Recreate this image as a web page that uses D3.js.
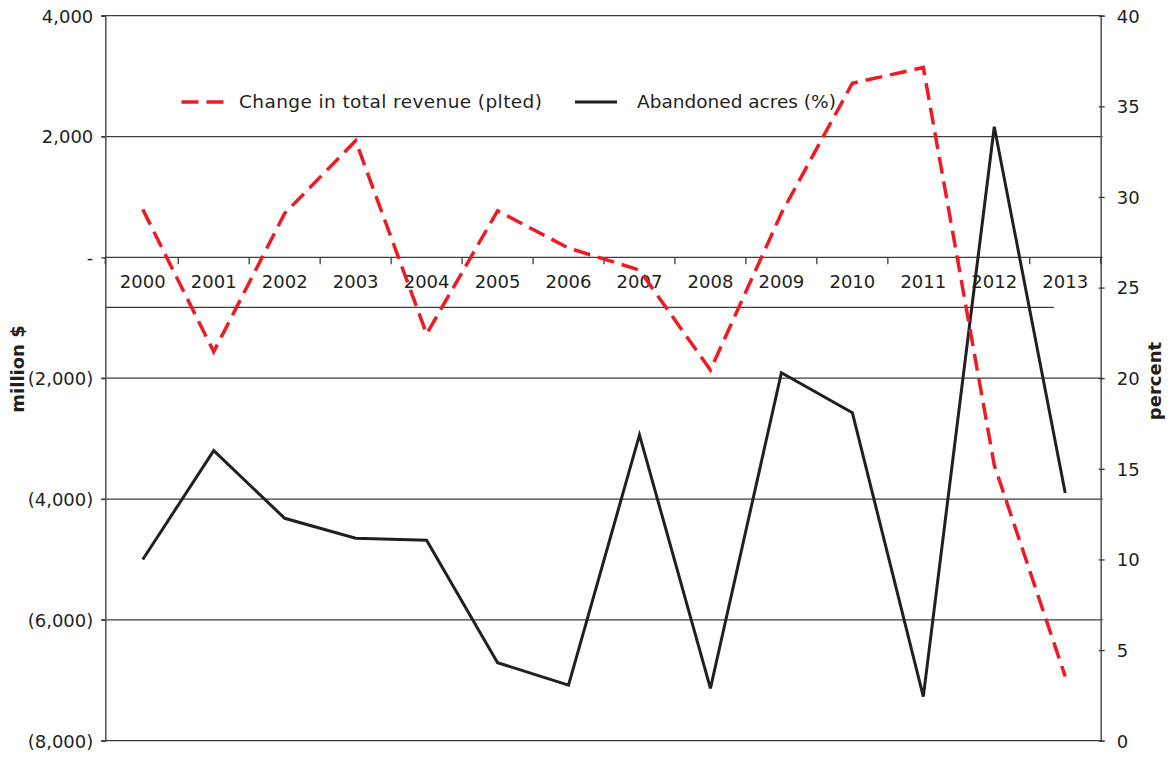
<!DOCTYPE html>
<html>
<head>
<meta charset="utf-8">
<script src="https://cdn.jsdelivr.net/npm/d3@7"></script>
<style>
  body { margin: 0; background: #fff; }
  svg { display: block; font-family: "DejaVu Sans", sans-serif; }
</style>
</head>
<body>
<svg id="chart" width="1175" height="758"></svg>
<script>
const years = ["2000","2001","2002","2003","2004","2005","2006","2007","2008","2009","2010","2011","2012","2013"];
const revenueChange = [794, -1562, 728, 1930, -1269, 771, 154, -210, -1865, 730, 2882, 3143, -3438, -6938];
const abandonedPct = [10.0, 16.0, 12.27, 11.17, 11.06, 4.3, 3.07, 16.87, 2.89, 20.3, 18.1, 2.43, 33.87, 13.67];
const leftTicks = [4000, 2000, 0, -2000, -4000, -6000, -8000];
const rightTicks = [0, 5, 10, 15, 20, 25, 30, 35, 40];
const seriesNames = ["Change in total revenue (plted)", "Abandoned acres (%)"];
const axisTitles = ["million $", "percent"];

(function () {
const svg = d3.select("#chart");
const pLeft = 105.3, pRight = 1100.7, pTop = 15.7, pBottom = 740.7;
const textColor = "#231f20";
const red = "#ed1c24";

const x = d3.scaleBand().domain(years).range([pLeft + 2, pRight]).padding(0);
const yL = d3.scaleLinear().domain([-8000, 4000]).range([pBottom, pTop]);
const yR = d3.scaleLinear().domain([0, 40]).range([pBottom, pTop]);

// gridlines (left ticks except zero)
svg.append("g").selectAll("line").data(leftTicks.filter(d => d !== 0)).join("line")
  .attr("x1", pLeft - 4).attr("x2", pRight + 2)
  .attr("y1", d => yL(d)).attr("y2", d => yL(d))
  .attr("stroke", "#3c3c3c").attr("stroke-width", 1.3);

// extra horizontal line under the category labels
svg.append("line")
  .attr("x1", pLeft).attr("x2", x("2013") + x.bandwidth() * 0.34)
  .attr("y1", 307.3).attr("y2", 307.3)
  .attr("stroke", "#3c3c3c").attr("stroke-width", 1.2);

// left axis
const fmtL = d => d === 0 ? "-" : (d < 0 ? "(" + d3.format(",")(-d) + ")" : d3.format(",")(d));
const gL = svg.append("g").attr("transform", `translate(${pLeft},0)`)
  .call(d3.axisLeft(yL).tickValues(leftTicks).tickFormat(fmtL).tickSize(4).tickPadding(8));
gL.select(".domain").attr("stroke", "#5a5a5a").attr("stroke-width", 1.6);
gL.selectAll(".tick line").attr("stroke", "#3c3c3c").attr("stroke-width", 1.3);
gL.selectAll(".tick text").attr("fill", textColor).style("font-size", "18px")
  .style("font-family", "DejaVu Sans, sans-serif").attr("dy", "0.35em");

// right axis
const gR = svg.append("g").attr("transform", `translate(${pRight},0)`)
  .call(d3.axisRight(yR).tickValues(rightTicks).tickSize(4).tickPadding(12));
gR.select(".domain").attr("stroke", "#5a5a5a").attr("stroke-width", 1.6);
gR.selectAll(".tick line").attr("x1", -2).attr("x2", 4).attr("stroke", "#3c3c3c").attr("stroke-width", 1.3);
gR.selectAll(".tick text").attr("fill", textColor).style("font-size", "18px")
  .style("font-family", "DejaVu Sans, sans-serif").attr("dy", "0.35em");

// category axis at zero
const zeroY = yL(0);
const gX = svg.append("g").attr("transform", `translate(0,${zeroY})`)
  .call(d3.axisBottom(x).tickSize(0).tickPadding(18));
gX.select(".domain").remove();
svg.append("line").attr("x1", pLeft).attr("x2", pRight + 2).attr("y1", zeroY).attr("y2", zeroY)
  .attr("stroke", "#3c3c3c").attr("stroke-width", 1.3);
gX.selectAll(".tick text").attr("fill", textColor).style("font-size", "18px")
  .style("font-family", "DejaVu Sans, sans-serif");
const boundaries = years.slice(1).map(d => x(d)).concat([pLeft, pRight]);
svg.append("g").selectAll("line").data(boundaries).join("line")
  .attr("x1", d => d).attr("x2", d => d)
  .attr("y1", zeroY).attr("y2", zeroY + 7)
  .attr("stroke", "#3c3c3c").attr("stroke-width", 1.3);

// series
const cx = d => x(d) + x.bandwidth() / 2;
const lineRev = d3.line().x((d, i) => cx(years[i])).y(d => yL(d));
const linePct = d3.line().x((d, i) => cx(years[i])).y(d => yR(d));

svg.append("path").datum(abandonedPct).attr("d", linePct)
  .attr("fill", "none").attr("stroke", textColor).attr("stroke-width", 3)
  .attr("stroke-linejoin", "miter");
svg.append("path").datum(revenueChange).attr("d", lineRev)
  .attr("fill", "none").attr("stroke", red).attr("stroke-width", 3.5)
  .attr("stroke-dasharray", "17,8").attr("stroke-linejoin", "miter");

// legend
const legY = 102;
svg.append("line").attr("x1", 181.5).attr("x2", 223.5).attr("y1", legY).attr("y2", legY)
  .attr("stroke", red).attr("stroke-width", 3.5).attr("stroke-dasharray", "17,8");
svg.append("text").attr("x", 239).attr("y", legY).attr("dy", "0.35em")
  .attr("fill", textColor).style("font-size", "18.5px").style("letter-spacing", "0.4px").text(seriesNames[0]);
svg.append("line").attr("x1", 575).attr("x2", 617).attr("y1", legY).attr("y2", legY)
  .attr("stroke", textColor).attr("stroke-width", 3);
svg.append("text").attr("x", 637).attr("y", legY).attr("dy", "0.35em")
  .attr("fill", textColor).style("font-size", "18.5px").text(seriesNames[1]);

// axis titles
svg.append("text").attr("transform", "translate(18,369) rotate(-90)")
  .attr("text-anchor", "middle").attr("dy", "0.35em")
  .attr("fill", textColor).style("font-size", "18px").style("font-weight", "bold").text(axisTitles[0]);
svg.append("text").attr("transform", "translate(1155,381) rotate(-90)")
  .attr("text-anchor", "middle").attr("dy", "0.35em")
  .attr("fill", textColor).style("font-size", "18px").style("font-weight", "bold").text(axisTitles[1]);
})();
</script>
</body>
</html>
